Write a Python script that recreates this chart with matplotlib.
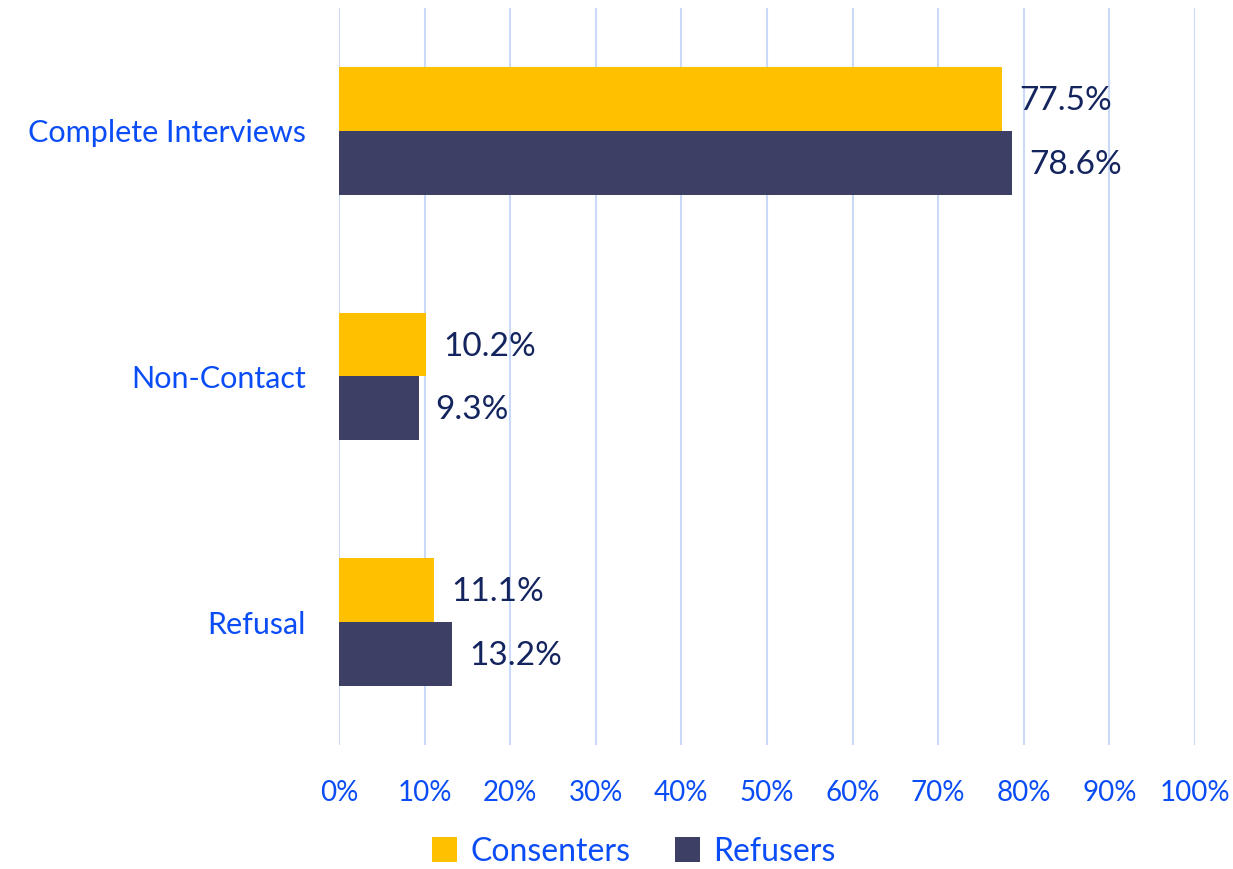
import numpy as np
import matplotlib.pyplot as plt

plt.rcParams['font.family'] = ['Lato', 'DejaVu Sans']

# Datos
categories = ['Complete Interviews', 'Non-Contact', 'Refusal']
consenters = [77.5, 10.2, 11.1]
refusers = [78.6, 9.3, 13.2]
series_names = ['Consenters', 'Refusers']

yellow = '#FFC000'
navy = '#3E3F64'
tick_blue = '#0A4CF5'
label_navy = '#13245E'
grid_blue = '#C9D9F7'

fig = plt.figure(figsize=(12.33, 8.69), dpi=100)
ax = fig.add_axes([0.2749, 0.1427, 0.6943, 0.8481])

y = np.arange(len(categories))
h = 0.26
b1 = ax.barh(y - h / 2, consenters, height=h, color=yellow, label=series_names[0], zorder=3)
b2 = ax.barh(y + h / 2, refusers, height=h, color=navy, label=series_names[1], zorder=3)

for bars, vals in ((b1, consenters), (b2, refusers)):
    for bar, v in zip(bars, vals):
        ax.annotate(f'{v:.1f}%', (v, bar.get_y() + bar.get_height() / 2),
                    xytext=(17, -2), textcoords='offset pixels',
                    va='center', ha='left', fontsize=24, color=label_navy)

ax.set_xlim(0, 100)
ax.set_ylim(len(categories) - 0.5, -0.5)
ax.set_xticks(np.arange(0, 101, 10))
ax.set_xticklabels([f'{t}%' for t in range(0, 101, 10)])
ax.set_yticks(y)
ax.set_yticklabels(categories)
ax.tick_params(axis='x', length=0, pad=25, labelsize=20, labelcolor=tick_blue)
ax.tick_params(axis='y', length=0, pad=24, labelsize=22, labelcolor=tick_blue)
ax.grid(axis='x', color=grid_blue, linewidth=1.5, zorder=0)
for s in ax.spines.values():
    s.set_visible(False)

leg = fig.legend(loc='center', bbox_to_anchor=(0.514, 0.02), ncol=2, frameon=False,
                 fontsize=23, handlelength=0.8, handleheight=0.8, handletextpad=0.4,
                 columnspacing=1.4, borderaxespad=0, borderpad=0.2)
for t in leg.get_texts():
    t.set_color(tick_blue)

fig.savefig('out.png', dpi=100)
